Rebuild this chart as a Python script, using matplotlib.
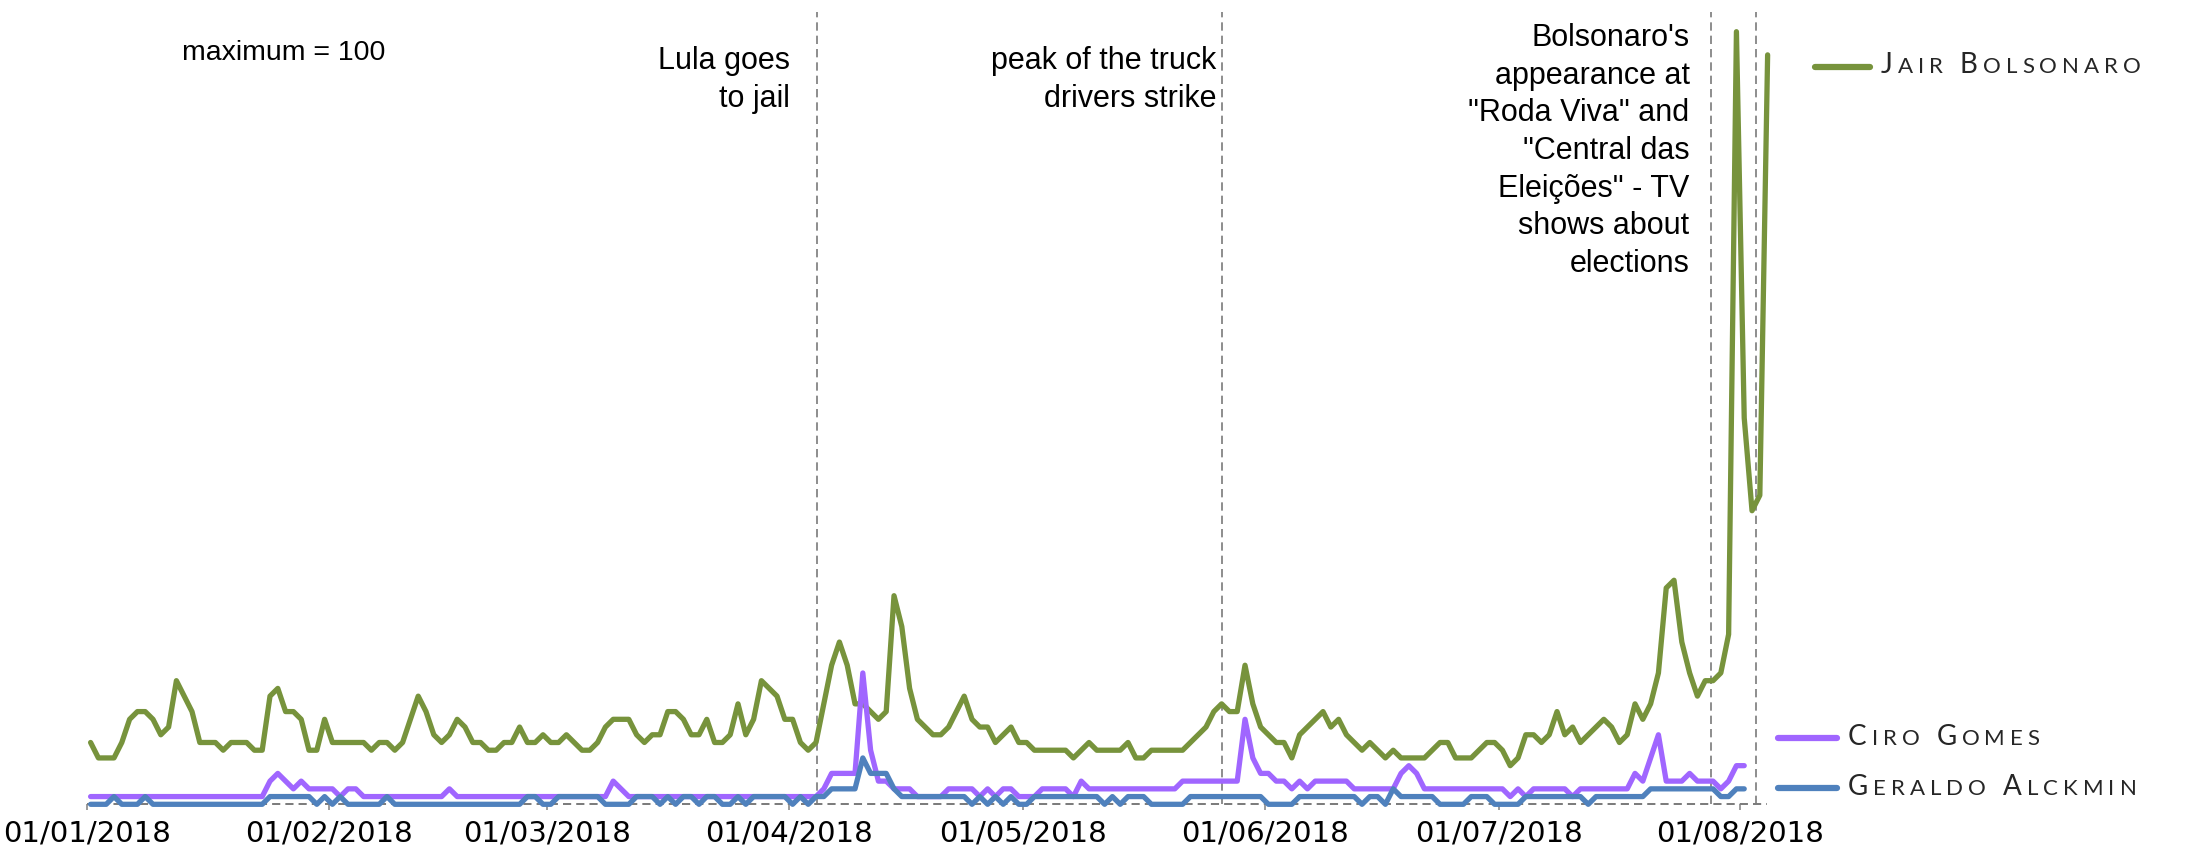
import numpy as np
import pandas as pd
import matplotlib
matplotlib.use('Agg')
import matplotlib.pyplot as plt
import matplotlib.dates as mdates
from matplotlib.lines import Line2D

# Google Trends interest, daily, 01/01/2018 onwards (maximum = 100)
bolsonaro = [8, 6, 6, 6, 8, 11, 12, 12, 11, 9,
             10, 16, 14, 12, 8, 8, 8, 7, 8, 8,
             8, 7, 7, 14, 15, 12, 12, 11, 7, 7,
             11, 8, 8, 8, 8, 8, 7, 8, 8, 7,
             8, 11, 14, 12, 9, 8, 9, 11, 10, 8,
             8, 7, 7, 8, 8, 10, 8, 8, 9, 8,
             8, 9, 8, 7, 7, 8, 10, 11, 11, 11,
             9, 8, 9, 9, 12, 12, 11, 9, 9, 11,
             8, 8, 9, 13, 9, 11, 16, 15, 14, 11,
             11, 8, 7, 8, 13, 18, 21, 18, 13, 13,
             12, 11, 12, 27, 23, 15, 11, 10, 9, 9,
             10, 12, 14, 11, 10, 10, 8, 9, 10, 8,
             8, 7, 7, 7, 7, 7, 6, 7, 8, 7,
             7, 7, 7, 8, 6, 6, 7, 7, 7, 7,
             7, 8, 9, 10, 12, 13, 12, 12, 18, 13,
             10, 9, 8, 8, 6, 9, 10, 11, 12, 10,
             11, 9, 8, 7, 8, 7, 6, 7, 6, 6,
             6, 6, 7, 8, 8, 6, 6, 6, 7, 8,
             8, 7, 5, 6, 9, 9, 8, 9, 12, 9,
             10, 8, 9, 10, 11, 10, 8, 9, 13, 11,
             13, 17, 28, 29, 21, 17, 14, 16, 16, 17,
             22, 100, 50, 38, 40, 97]

ciro = [1, 1, 1, 1, 1, 1, 1, 1, 1, 1,
        1, 1, 1, 1, 1, 1, 1, 1, 1, 1,
        1, 1, 1, 3, 4, 3, 2, 3, 2, 2,
        2, 2, 1, 2, 2, 1, 1, 1, 1, 1,
        1, 1, 1, 1, 1, 1, 2, 1, 1, 1,
        1, 1, 1, 1, 1, 1, 1, 1, 1, 1,
        1, 1, 1, 1, 1, 1, 1, 3, 2, 1,
        1, 1, 1, 1, 1, 1, 1, 1, 1, 1,
        1, 1, 1, 1, 1, 1, 1, 1, 1, 1,
        1, 1, 1, 1, 2, 4, 4, 4, 4, 17,
        7, 3, 3, 2, 2, 2, 1, 1, 1, 1,
        2, 2, 2, 2, 1, 2, 1, 2, 2, 1,
        1, 1, 2, 2, 2, 2, 1, 3, 2, 2,
        2, 2, 2, 2, 2, 2, 2, 2, 2, 2,
        3, 3, 3, 3, 3, 3, 3, 3, 11, 6,
        4, 4, 3, 3, 2, 3, 2, 3, 3, 3,
        3, 3, 2, 2, 2, 2, 2, 2, 4, 5,
        4, 2, 2, 2, 2, 2, 2, 2, 2, 2,
        2, 2, 1, 2, 1, 2, 2, 2, 2, 2,
        1, 2, 2, 2, 2, 2, 2, 2, 4, 3,
        6, 9, 3, 3, 3, 4, 3, 3, 3, 2,
        3, 5, 5]

alckmin = [0, 0, 0, 1, 0, 0, 0, 1, 0, 0,
           0, 0, 0, 0, 0, 0, 0, 0, 0, 0,
           0, 0, 0, 1, 1, 1, 1, 1, 1, 0,
           1, 0, 1, 0, 0, 0, 0, 0, 1, 0,
           0, 0, 0, 0, 0, 0, 0, 0, 0, 0,
           0, 0, 0, 0, 0, 0, 1, 1, 0, 0,
           1, 1, 1, 1, 1, 1, 0, 0, 0, 0,
           1, 1, 1, 0, 1, 0, 1, 1, 0, 1,
           1, 0, 0, 1, 0, 1, 1, 1, 1, 1,
           0, 1, 0, 1, 1, 2, 2, 2, 2, 6,
           4, 4, 4, 2, 1, 1, 1, 1, 1, 1,
           1, 1, 1, 0, 1, 0, 1, 0, 1, 0,
           0, 1, 1, 1, 1, 1, 1, 1, 1, 1,
           0, 1, 0, 1, 1, 1, 0, 0, 0, 0,
           0, 1, 1, 1, 1, 1, 1, 1, 1, 1,
           1, 0, 0, 0, 0, 1, 1, 1, 1, 1,
           1, 1, 1, 0, 1, 1, 0, 2, 1, 1,
           1, 1, 1, 0, 0, 0, 0, 1, 1, 1,
           0, 0, 0, 0, 1, 1, 1, 1, 1, 1,
           1, 1, 0, 1, 1, 1, 1, 1, 1, 1,
           2, 2, 2, 2, 2, 2, 2, 2, 2, 1,
           1, 2, 2]

names = ['Jair Bolsonaro', 'Ciro Gomes', 'Geraldo Alckmin']
colors = ['#77933C', '#A066FF', '#4F81BD']

event_dates = ['2018-04-04 14:00', '2018-05-26 14:00', '2018-07-28 07:00', '2018-08-03 00:00']
event_texts = ['Lula goes\nto jail',
               'peak of the truck\ndrivers strike',
               "Bolsonaro's\nappearance at\n\"Roda Viva\" and\n\"Central das\nEleições\" - TV\nshows about\nelections"]

W, H = 2199, 846
start = pd.Timestamp('2018-01-01')


def day(d):
    return start + pd.Timedelta(days=d)


fig = plt.figure(figsize=(W / 100, H / 100), dpi=100)
ax = fig.add_axes([86.7 / W, (H - 804.3) / H, 1680.3 / W, 792.3 / H])

series = [bolsonaro, ciro, alckmin]
for vals, c in zip(series, colors):
    dates = pd.date_range('2018-01-01 12:00', periods=len(vals), freq='D')
    ax.plot(dates, vals, color=c, lw=3.8, solid_joinstyle='round',
            solid_capstyle='round', clip_on=False)

ax.set_xlim(day(0), day(215.42))
ax.set_ylim(0, 102.55)

# dashed event lines and baseline
for d in event_dates:
    ax.axvline(pd.Timestamp(d), color='#7a7a7a', lw=1.2, dashes=(5.0, 3.0), zorder=0)
ax.axhline(0, color='#7a7a7a', lw=1.4, dashes=(4.2, 2.6), zorder=0, clip_on=False)

for s in ax.spines.values():
    s.set_visible(False)
ax.set_yticks([])
ax.xaxis.set_major_locator(mdates.MonthLocator())
ax.xaxis.set_major_formatter(mdates.DateFormatter('%d/%m/%Y'))
ax.tick_params(axis='x', length=4.3, width=1.1, color='#808080', pad=7,
               labelsize=21, labelcolor='black')

# annotations
txt = dict(family=['Liberation Sans', 'DejaVu Sans'], fontsize=22, color='black',
           linespacing=1.33)
ax.text(day(25.2), 97.3, 'maximum = 100', ha='center', va='center',
        family=['Liberation Sans', 'DejaVu Sans'], fontsize=20.5)
ax.text(day(90.2), 98.15, event_texts[0], ha='right', va='top', **txt)
ax.text(day(144.8), 98.15, event_texts[1], ha='right', va='top', **txt)
ax.text(day(205.5), 101.1, event_texts[2], ha='right', va='top', **txt)

# small-caps labels at the line ends
renderer = fig.canvas.get_renderer()


def smallcaps(x_px, y_px, label, big=20, small=16, track=5):
    x = x_px
    for ch in label:
        if ch == ' ':
            x += 12
            continue
        size = big if ch.isupper() else small
        t = fig.text(x / W, 1 - y_px / H, ch.upper(), fontsize=size,
                     family=['Lato', 'DejaVu Sans'], weight='normal',
                     color='#262626', ha='left', va='baseline')
        x += t.get_window_extent(renderer).width + track


legend_pos = [(1812, 1873, 67, 1881, 73),
              (1775, 1840, 738, 1848, 745),
              (1775, 1840, 788, 1848, 795)]
for (x0, x1, ly, tx, ty), name, c in zip(legend_pos, names, colors):
    fig.add_artist(Line2D([(x0 + 3) / W, (x1 - 3) / W], [1 - ly / H] * 2,
                          transform=fig.transFigure, color=c, lw=4.5,
                          solid_capstyle='round'))
    smallcaps(tx, ty, name)

fig.savefig('out.png', dpi=100)
